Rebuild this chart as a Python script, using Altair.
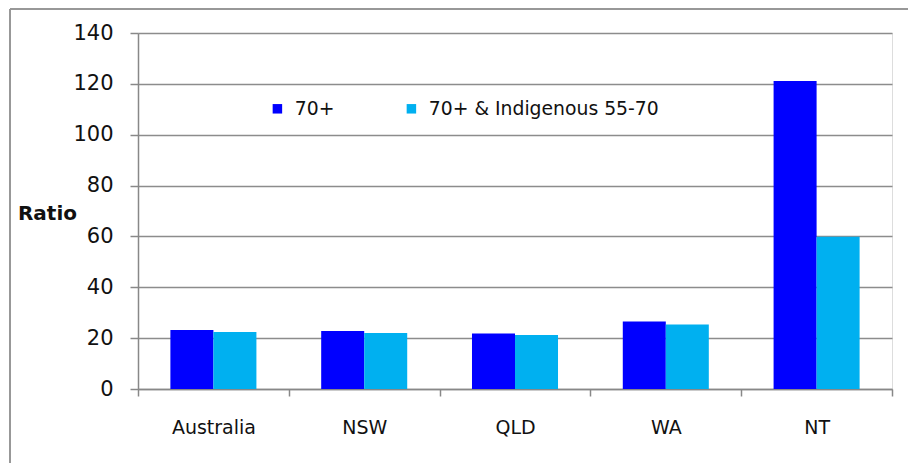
import altair as alt
import pandas as pd

regions = ["Australia", "NSW", "QLD", "WA", "NT"]
series = ["70+", "70+ & Indigenous 55-70"]
vals_70 = [23.2, 22.8, 21.8, 26.5, 121.1]
vals_70_ind = [22.4, 22.0, 21.2, 25.4, 59.9]
colors = ["#0000FF", "#00B0F0"]
y_ticks = [0, 20, 40, 60, 80, 100, 120, 140]

rows = []
for r, a, b in zip(regions, vals_70, vals_70_ind):
    rows.append({"region": r, "series": series[0], "value": a})
    rows.append({"region": r, "series": series[1], "value": b})
df = pd.DataFrame(rows)

FONT = "DejaVu Sans"

bars = alt.Chart(df).mark_bar().encode(
    x=alt.X("region:N", sort=regions, title=None,
            scale=alt.Scale(paddingInner=0, paddingOuter=0),
            axis=alt.Axis(labelAngle=0, labelFontSize=19, labelFont=FONT, labelColor="#111111",
                          labelPadding=22, tickBand="extent", tickSize=7, tickColor="#888888",
                          tickWidth=1.5, domainColor="#888888", domainWidth=1.5, grid=False)),
    xOffset=alt.XOffset("series:N", sort=series,
                        scale=alt.Scale(paddingInner=0, paddingOuter=0.753)),
    y=alt.Y("value:Q", title="Ratio",
            scale=alt.Scale(domain=[0, 140], nice=False),
            axis=alt.Axis(values=y_ticks, labelFontSize=21, labelFont=FONT, labelColor="#111111",
                          labelPadding=17, tickSize=8, tickColor="#888888", tickWidth=1.5,
                          domainColor="#888888", domainWidth=1.5,
                          grid=True, gridColor="#8c8c8c", gridWidth=1.5,
                          titleAngle=0, titleFont=FONT, titleFontSize=20, titleFontWeight="bold",
                          titleColor="#111111", titleX=-91, titleY=180, titleAlign="center",
                          titleBaseline="middle")),
    color=alt.Color("series:N", sort=series,
                    scale=alt.Scale(domain=series, range=colors),
                    legend=alt.Legend(title=None, orient="none", legendX=130, legendY=66,
                                      direction="horizontal", columns=2, columnPadding=67,
                                      symbolType="square", symbolSize=90, symbolStrokeWidth=0,
                                      labelFont=FONT, labelFontSize=18.8, labelColor="#111111",
                                      labelOffset=8, labelLimit=500)),
)

frame_top = alt.Chart(df).mark_rule(color="#999999", strokeWidth=1.5).encode(
    x=alt.value(-128), x2=alt.value(800), y=alt.value(-24)
)
frame_left = alt.Chart(df).mark_rule(color="#999999", strokeWidth=1.5).encode(
    x=alt.value(-128), y=alt.value(-24), y2=alt.value(440)
)

chart = alt.layer(bars, frame_top, frame_left).properties(
    width=754, height=356,
    autosize=alt.AutoSizeParams(type="none"),
    padding={"left": 130, "top": 25, "right": 16, "bottom": 74},
).configure_view(stroke=None).configure(background="white")

chart.save("out.html", embed_options={"renderer": "svg", "actions": False})
